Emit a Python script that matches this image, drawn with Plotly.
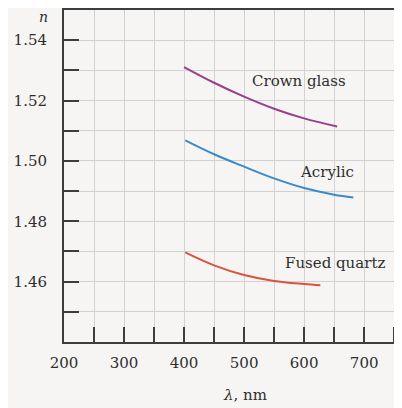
import plotly.graph_objects as go

# wavelength (nm) and index of refraction
crown_wl = [400, 450, 500, 550, 600, 655]
crown_n = [1.5311, 1.5259, 1.5213, 1.5173, 1.5141, 1.5114]

acrylic_wl = [402, 450, 500, 550, 600, 650, 682]
acrylic_n = [1.5068, 1.5022, 1.4981, 1.4942, 1.4910, 1.4888, 1.4879]

quartz_wl = [402, 450, 500, 550, 600, 627]
quartz_n = [1.4697, 1.4654, 1.4622, 1.4602, 1.4592, 1.4588]

x_ticks = [200, 250, 300, 350, 400, 450, 500, 550, 600, 650, 700, 750]
x_labels = ["200", "", "300", "", "400", "", "500", "", "600", "", "700", ""]
y_ticks = [1.44, 1.45, 1.46, 1.47, 1.48, 1.49, 1.50, 1.51, 1.52, 1.53, 1.54]
y_labels = ["", "", "1.46", "", "1.48", "", "1.50", "", "1.52", "", "1.54"]

curve_labels = ["Crown glass", "Acrylic", "Fused quartz"]
label_x = [592, 638, 652]
label_y = [1.5265, 1.4962, 1.4663]

SERIF = "DejaVu Serif"
INK = "#2e2e2e"
FRAME = "#3d3d3d"

# the page body adds an 8px offset, so the figure is 8px smaller and margins shift up/left
PAD = 8
W, H = 402 - PAD, 408 - PAD
L, R, T, B = 64 - PAD, 0, 10 - PAD, 66
pw, ph = W - L - R, H - T - B

fig = go.Figure()
for wl, n, color in [
    (crown_wl, crown_n, "#9a3f8c"),
    (acrylic_wl, acrylic_n, "#3b8bc9"),
    (quartz_wl, quartz_n, "#d8543f"),
]:
    fig.add_trace(go.Scatter(x=wl, y=n, mode="lines", line=dict(color=color, width=2, shape="spline"),
                             showlegend=False, hoverinfo="skip"))

for text, x, y in zip(curve_labels, label_x, label_y):
    fig.add_annotation(x=x, y=y, text=text, showarrow=False, font=dict(family=SERIF, size=15, color=INK))

# axis titles sit as free text like in the book figure (page pixel spots -> paper fractions)
fig.add_annotation(x=(43 - 64) / pw, y=(342 - 17) / ph, xref="paper", yref="paper", text="<i>n</i>",
                   showarrow=False, xanchor="center", yanchor="middle",
                   font=dict(family=SERIF, size=14, color=INK))
fig.add_annotation(x=(245 - 64) / pw, y=-(395 - 342) / ph, xref="paper", yref="paper",
                   text="<i>λ</i>, nm", showarrow=False, xanchor="center", yanchor="middle",
                   font=dict(family=SERIF, size=15, color=INK))

fig.update_layout(
    width=W,
    height=H,
    margin=dict(l=L, r=R, t=T, b=B, autoexpand=False),
    paper_bgcolor="#f6f5f3",
    plot_bgcolor="#f6f5f3",
    font=dict(family=SERIF, size=15, color=INK),
)
fig.update_xaxes(
    range=[200, 763], tickvals=x_ticks, ticktext=x_labels, ticks="inside", ticklen=15, tickwidth=2,
    tickcolor=FRAME, showline=True, linecolor=FRAME, linewidth=2, mirror=True, automargin=False,
    showgrid=True, gridcolor="#d2d2d2", gridwidth=1, zeroline=False, ticklabelstandoff=6,
)
fig.update_yaxes(
    range=[1.44, 1.55], tickvals=y_ticks, ticktext=y_labels, ticks="inside", ticklen=15, tickwidth=2,
    tickcolor=FRAME, showline=True, linecolor=FRAME, linewidth=2, mirror=False, automargin=False,
    showgrid=True, gridcolor="#d2d2d2", gridwidth=1, zeroline=False, ticklabelstandoff=12,
)

fig.write_html("out.html")
